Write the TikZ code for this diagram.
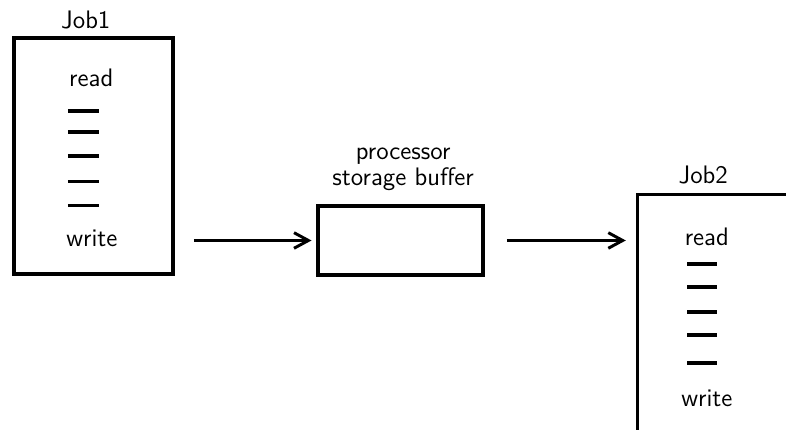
\documentclass[tikz,border=0pt]{standalone}
\usepackage{tikz}
\usetikzlibrary{arrows.meta,positioning,calc}
\tikzset{
  % plain outlined boxes, thin sans labels
  jobbox/.style = {rectangle, draw=black, line width=1.6pt, inner sep=0pt},
  arr/.style    = {-{Straight Barb[length=2.4mm,width=2.6mm]}, line width=1.4pt},
  rulebar/.style = {line width=1.6pt},
  lbl/.style    = {font=\sffamily\fontsize{12}{13.5}\selectfont, inner sep=1pt, align=center},
}
\begin{document}
\begin{tikzpicture}[x=1cm,y=1cm]
\useasboundingbox (0,0) rectangle (13.1,7.15);
\clip (0,0) rectangle (13.1,7.15);
% first job
\node[jobbox, minimum width=2.65cm, minimum height=3.93cm] (job1) at (1.558,4.55) {};
\node[lbl] (job1lbl) at (1.43,6.82) {Job1};
\node[lbl] (job1rd) at (1.52,5.85) {read};
\node[lbl] (job1wr) at (1.53,3.18) {write};
\foreach \y in {5.30,4.95,4.55,4.13,3.73}
  \draw[rulebar] (1.133,\y) -- (1.65,\y);
% buffer
\node[jobbox, minimum width=2.75cm, minimum height=1.15cm] (buf) at (6.675,3.142) {};
\node[lbl] (buflbl) at (6.72,4.33) {processor\\[-1pt]storage buffer};
% second job, runs off the page
\node[jobbox, minimum width=3.5cm, minimum height=5cm, anchor=north west] (job2) at (10.6,3.933) {};
\node[lbl] (job2lbl) at (11.72,4.233) {Job2};
\node[lbl] (job2rd) at (11.78,3.2) {read};
\node[lbl] (job2wr) at (11.78,0.517) {write};
\foreach \y in {2.75,2.367,1.95,1.567,1.10}
  \draw[rulebar] (11.45,\y) -- (11.95,\y);
% flow
\draw[arr, shorten <=3.2mm, shorten >=0.8mm] (job1.east |- buf.west) -- (buf.west);
\draw[arr, shorten <=3.7mm, shorten >=1.7mm] (buf.east) -- (job2.west |- buf.east);
\end{tikzpicture}
\end{document}
